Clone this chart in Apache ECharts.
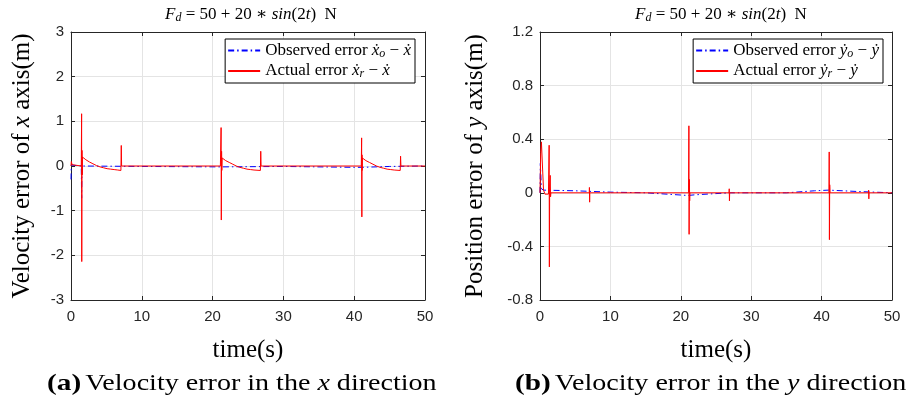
<!DOCTYPE html>
<html>
<head>
<meta charset="utf-8">
<script src="https://cdn.jsdelivr.net/npm/echarts@6/dist/echarts.min.js"></script>
<style>html,body{margin:0;padding:0;background:#fff}#c{width:913px;height:400px}</style>
</head>
<body>
<div id="c"></div>
<script>
// ---------- data ----------
const xTicks = [0, 10, 20, 30, 40, 50];

// (a) x direction — actual error (red)
const xActualT = [0, 0.05, 0.15, 0.3, 1.45, 1.5, 1.52, 1.55, 1.58, 1.62, 2.1, 2.6, 3.1, 3.6, 4.1, 4.6, 5.1, 5.6, 6.1, 6.6, 7.05, 7.1, 7.15, 7.2,
  21.1, 21.2, 21.23, 21.27, 21.3, 21.35, 21.85, 22.35, 22.85, 23.35, 23.85, 24.35, 24.85, 25.35, 25.85, 26.75, 26.8, 26.85, 26.9,
  41.0, 41.05, 41.08, 41.1, 41.12, 41.15, 41.65, 42.15, 42.65, 43.15, 43.65, 44.15, 44.65, 45.15, 45.65, 46.5, 46.55, 46.6, 46.65, 50];
const xActualV = [0, 0.1, 0.03, 0, 0, 1.17, -2.14, 0.35, -0.2, 0.2, 0.14, 0.09, 0.05, 0.01, -0.02, -0.04, -0.06, -0.07, -0.08, -0.09, -0.1, 0.46, 0.0, 0,
  0, 0.86, -1.21, 0.33, -0.1, 0.18, 0.12, 0.08, 0.04, 0.0, -0.03, -0.05, -0.07, -0.08, -0.09, -0.1, 0.33, 0.0, 0,
  0, 0.63, -1.14, 0.25, -0.1, 0.18, 0.12, 0.08, 0.04, 0.0, -0.03, -0.05, -0.07, -0.08, -0.09, -0.1, 0.22, 0.0, 0, 0];
// (a) x direction — observed error (blue)
const xObsT = [0, 0.05, 0.2, 1.45, 1.5, 1.55, 10, 21.2, 21.25, 30, 40, 41.05, 41.1, 45, 50];
const xObsV = [-0.3, 0.02, 0, 0, -0.72, 0, -0.01, -0.02, 0, -0.01, -0.03, -0.03, 0, -0.01, 0];

// (b) y direction — actual error (red)
const yActualT = [0, 0.1, 0.2, 0.35, 0.5, 0.7, 1.2, 1.3, 1.33, 1.37, 1.45, 1.5, 1.55, 7.0, 7.02, 7.05, 7.08,
  21.1, 21.15, 21.18, 21.22, 21.26, 21.3, 26.85, 26.88, 26.91, 26.94,
  41.05, 41.08, 41.11, 41.15, 41.2, 46.65, 46.68, 46.71, 46.74, 50];
const yActualV = [0, 0.3, 0.38, 0.2, 0.02, -0.01, -0.01, 0.355, -0.553, 0.05, 0.13, -0.03, 0, 0, 0.04, -0.07, 0,
  0, 0.5, -0.31, 0.1, -0.06, 0, 0, 0.03, -0.06, 0,
  0, 0.305, -0.35, 0.06, 0, 0, 0.02, -0.045, 0, 0];
// (b) y direction — observed error (blue)
const yObsT = [0, 0.05, 0.2, 0.5, 5, 10, 15, 21, 22, 27, 35, 39, 41, 45, 50];
const yObsV = [0, 0.22, 0.03, 0.02, 0.015, 0.005, 0, -0.02, -0.015, 0, 0, 0.015, 0.02, 0.01, 0];

const zip = (t, v) => t.map((x, i) => [x, v[i]]);

// ---------- styling ----------
const SERIF = '"Liberation Serif", "DejaVu Serif", serif';
const SANS = '"Liberation Sans", Arial, sans-serif';
const AX = '#262626';
const GRIDC = '#e4e4e4';
function richSet(size, lh) {
  return {
    n: { fontFamily: SERIF, fontWeight: 'normal', color: '#000', fontSize: size, lineHeight: lh },
    i: { fontFamily: SERIF, fontWeight: 'normal', fontStyle: 'italic', color: '#000', fontSize: size, lineHeight: lh },
    b: { fontFamily: SERIF, fontWeight: 'bold', color: '#000', fontSize: size + 1, lineHeight: lh },
    s: { fontFamily: SERIF, fontWeight: 'normal', fontStyle: 'italic', fontSize: Math.round(size * 0.68), lineHeight: Math.round(lh * 0.6), verticalAlign: 'bottom', color: '#000' }
  };
}

const grids = [
  { left: 71, top: 32, width: 354, height: 268 },
  { left: 540, top: 32, width: 352, height: 268 }
];

function mainX(gi) {
  return {
    type: 'value', gridIndex: gi, min: 0, max: 50, interval: 10, position: 'bottom',
    axisLine: { show: true, onZero: false, lineStyle: { color: AX, width: 1 } },
    axisTick: { show: true, inside: true, length: 4, lineStyle: { color: AX } },
    axisLabel: { color: AX, fontFamily: SANS, fontSize: 15, margin: 9 },
    splitLine: { show: true, lineStyle: { color: GRIDC, width: 1 } },
    name: 'time(s)', nameLocation: 'middle', nameGap: 38,
    nameTextStyle: { fontFamily: SERIF, fontSize: 25, color: '#000' }
  };
}
function topX(gi) {
  return {
    type: 'value', gridIndex: gi, min: 0, max: 50, interval: 10, position: 'top',
    axisLine: { show: true, onZero: false, lineStyle: { color: AX, width: 1 } },
    axisTick: { show: true, inside: true, length: 4, lineStyle: { color: AX } },
    axisLabel: { show: false }, splitLine: { show: false }
  };
}
function mainY(gi, min, max, interval, nameRich) {
  return {
    type: 'value', gridIndex: gi, min: min, max: max, interval: interval, position: 'left',
    axisLine: { show: true, onZero: false, lineStyle: { color: AX, width: 1 } },
    axisTick: { show: true, inside: true, length: 4, lineStyle: { color: AX } },
    axisLabel: { color: AX, fontFamily: SANS, fontSize: 15, margin: 7,
      formatter: v => String(Math.round(v * 10) / 10) },
    splitLine: { show: true, lineStyle: { color: GRIDC, width: 1 } },
    name: nameRich, nameLocation: 'middle', nameGap: gi === 0 ? 34 : 50, nameRotate: 90,
    nameTextStyle: { rich: richSet(25, 30) }
  };
}
function rightY(gi, min, max, interval) {
  return {
    type: 'value', gridIndex: gi, min: min, max: max, interval: interval, position: 'right',
    axisLine: { show: true, onZero: false, lineStyle: { color: AX, width: 1 } },
    axisTick: { show: true, inside: true, length: 4, lineStyle: { color: AX } },
    axisLabel: { show: false }, splitLine: { show: false }
  };
}

const nameXO = 'Observed error x';
const nameXR = 'Actual error x';
const nameYO = 'Observed error y';
const nameYR = 'Actual error y';
const legendText = {};
legendText[nameXO] = '{n|Observed error }{i|ẋ}{s|o}{n| − }{i|ẋ}';
legendText[nameXR] = '{n|Actual error }{i|ẋ}{s|r}{n| − }{i|ẋ}';
legendText[nameYO] = '{n|Observed error }{i|ẏ}{s|o}{n| − }{i|ẏ}';
legendText[nameYR] = '{n|Actual error }{i|ẏ}{s|r}{n| − }{i|ẏ}';

function legend(names, right) {
  return {
    data: names, orient: 'vertical', right: right, top: 39,
    backgroundColor: '#fff', borderColor: '#000', borderWidth: 1,
    padding: [3, 4, 3, 2], itemGap: 3, itemWidth: 32, itemHeight: 16,
    selectedMode: false,
    itemStyle: { opacity: 0 },
    formatter: n => legendText[n],
    textStyle: { rich: richSet(17, 18) }
  };
}

function line(name, data, gi, color, dash, z) {
  return {
    type: 'line', name: name, data: data, xAxisIndex: gi * 2, yAxisIndex: gi * 2,
    symbol: 'none', showSymbol: false, animation: false, z: z,
    lineStyle: { color: color, width: 1, type: dash },
    itemStyle: { color: color }
  };
}

const chart = echarts.init(document.getElementById('c'), null, { renderer: 'canvas' });
const titleTxt = '{i|F}{s|d}{n| = 50 + 20 ∗ }{i|sin}{n|(2}{i|t}{n|)  N}';
chart.setOption({
  animation: false,
  backgroundColor: '#fff',
  title: [
    { text: titleTxt, left: 246, top: 1, textAlign: 'center', textStyle: { fontWeight: 'normal', rich: richSet(17, 18) } },
    { text: titleTxt, left: 716, top: 1, textAlign: 'center', textStyle: { fontWeight: 'normal', rich: richSet(17, 18) } }
  ],
  grid: grids,
  xAxis: [mainX(0), topX(0), mainX(1), topX(1)],
  yAxis: [
    mainY(0, -3, 3, 1, '{n|Velocity error of }{i|x}{n| axis(m)}'), rightY(0, -3, 3, 1),
    mainY(1, -0.8, 1.2, 0.4, '{n|Position error of }{i|y}{n| axis(m)}'), rightY(1, -0.8, 1.2, 0.4)
  ],
  legend: [legend([nameXO, nameXR], 498), legend([nameYO, nameYR], 30)],
  series: [
    line(nameXO, zip(xObsT, xObsV), 0, '#0000ff', [6, 3, 1.5, 3], 2),
    line(nameXR, zip(xActualT, xActualV), 0, '#ff0000', 'solid', 3),
    line(nameYO, zip(yObsT, yObsV), 1, '#0000ff', [6, 3, 1.5, 3], 2),
    line(nameYR, zip(yActualT, yActualV), 1, '#ff0000', 'solid', 3)
  ],
  graphic: [
    { type: 'text', x: 47, y: 371, scaleX: 1.22, style: { text: '{b|(a)} {n|Velocity error in the }{i|x}{n| direction}', rich: richSet(23, 26) } },
    { type: 'text', x: 515, y: 371, scaleX: 1.22, style: { text: '{b|(b)} {n|Velocity error in the }{i|y}{n| direction}', rich: richSet(23, 26) } }
  ]
});
</script>
</body>
</html>
